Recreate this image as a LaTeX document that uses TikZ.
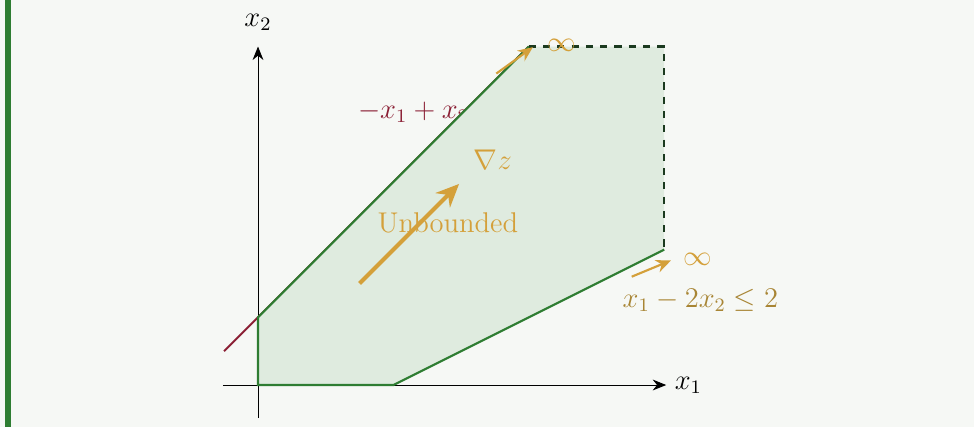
\documentclass[tikz,border=0pt]{standalone}
\usepackage{amsmath,amssymb}
\usepackage{xcolor}
\usepackage{tikz}
\usetikzlibrary{arrows.meta,positioning,backgrounds}
\definecolor{pagebg}{HTML}{F6F8F5}
\definecolor{barcol}{HTML}{2E7D32}
\definecolor{regionbg}{HTML}{DFEBDF}
\definecolor{edgecol}{HTML}{2E7D32}
\definecolor{opencol}{HTML}{1B3A1F}
\definecolor{maroon}{HTML}{8B2035}
\definecolor{gold}{HTML}{D4A03A}
\definecolor{darkgold}{HTML}{A88534}
\tikzset{
  axisline/.style={-{Stealth[length=2mm,width=1.6mm]},line width=0.4pt,black},
  edgeline/.style={edgecol,line width=0.9pt},
  openline/.style={opencol,dashed,line width=0.9pt},
  arrowgrad/.style={-{Stealth[length=3.4mm,width=3mm]},line width=1.7pt,gold},
  arrowinf/.style={-{Stealth[length=2.2mm,width=1.9mm]},line width=0.9pt,gold},
  lbl/.style={font=\large,inner sep=0pt},
}

\begin{document}
\begin{tikzpicture}
  % page and side bar
  \fill[pagebg] (-3.811,-0.620) rectangle (10.576,5.687);
  \useasboundingbox (-3.811,-0.620) rectangle (10.576,5.687);
  \fill[barcol] (-3.74,-0.620) rectangle (-3.65,5.687);
  % corners of the feasible region
  \coordinate (o) at (0,0);
  \coordinate (a) at (0,1);
  \coordinate (b) at (4,5);
  \coordinate (c) at (6,5);
  \coordinate (d) at (6,2);
  \coordinate (e) at (2,0);
  \coordinate (rl) at (-0.5,0.5);
  % axes
  \coordinate (xs) at (-0.52,0);
  \coordinate (xe) at (6.03,0);
  \coordinate (ys) at (0,-0.49);
  \coordinate (ye) at (0,5.0);
  \draw[axisline] (xs) -- (xe);
  \draw[axisline] (ys) -- (ye);
  \node[lbl,anchor=west] (xlab) at (6.15,0) {$x_1$};
  \node[lbl] (ylab) at (0,5.36) {$x_2$};
  % first constraint, partly under the region
  \draw[maroon,line width=0.8pt] (rl) -- (b);
  \node[lbl,anchor=base west,maroon] (c1) at (1.47,3.94) {$-x_1+x_2\leq 1$};
  % region
  \fill[regionbg] (o) -- (a) -- (b) -- (c) -- (d) -- (e) -- cycle;
  \draw[edgeline] (d) -- (e) -- (o) -- (a) -- (b);
  \draw[openline] (b) -- (c) -- (d);
  % gradient
  \coordinate (gs) at (1.5,1.5);
  \coordinate (ge) at (2.97,2.97);
  \draw[arrowgrad] (gs) -- (ge);
  \node[lbl,anchor=base west,gold] (grad) at (3.18,3.18) {$\nabla z$};
  \node[lbl,anchor=base west,gold] (ub) at (1.76,2.26) {Unbounded};
  % directions to infinity
  \coordinate (ta) at (3.52,4.6);
  \coordinate (tb) at (4.06,4.99);
  \draw[arrowinf] (ta) -- (tb);
  \node[lbl,anchor=west,gold] (inf1) at (4.27,5.02) {$\infty$};
  \coordinate (sa) at (5.52,1.6);
  \coordinate (sb) at (6.1,1.84);
  \draw[arrowinf] (sa) -- (sb);
  \node[lbl,anchor=west,gold] (inf2) at (6.28,1.86) {$\infty$};
  \node[lbl,anchor=base west,darkgold] (c2) at (5.38,1.15) {$x_1-2x_2\leq 2$};
\end{tikzpicture}
\end{document}
